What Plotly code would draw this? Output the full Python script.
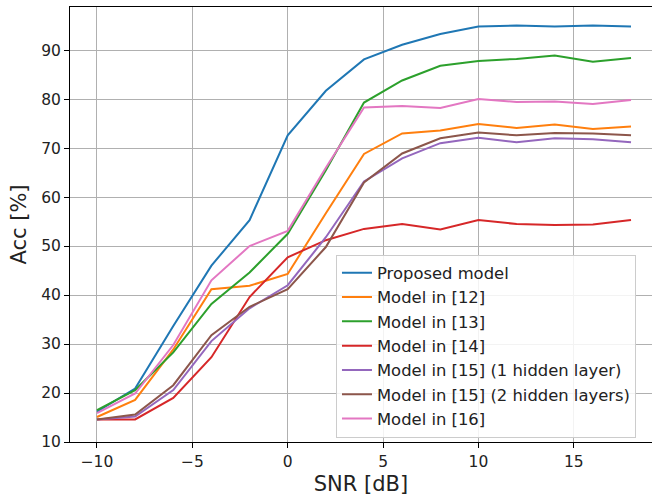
import plotly.graph_objects as go

snr = [-10, -8, -6, -4, -2, 0, 2, 4, 6, 8, 10, 12, 14, 16, 18]

proposed = [16.2, 20.9, 33.7, 46.0, 55.3, 72.6, 81.7, 88.1, 91.1, 93.3, 94.8, 95.0, 94.8, 95.0, 94.8]
model12 = [15.1, 18.6, 28.9, 41.2, 41.9, 44.3, 56.7, 68.8, 73.0, 73.6, 74.9, 74.1, 74.8, 73.9, 74.4]
model13 = [16.5, 20.6, 28.3, 38.2, 44.6, 52.5, 65.5, 79.3, 83.8, 86.8, 87.8, 88.2, 88.9, 87.6, 88.4]
model14 = [14.6, 14.6, 19.0, 27.3, 39.6, 47.7, 51.2, 53.5, 54.5, 53.4, 55.3, 54.5, 54.3, 54.4, 55.3]
model15a = [14.6, 15.2, 20.6, 30.6, 37.3, 42.0, 51.8, 63.2, 67.9, 71.0, 72.1, 71.2, 72.0, 71.8, 71.2]
model15b = [14.6, 15.6, 21.6, 31.8, 37.6, 41.2, 49.8, 63.0, 68.9, 72.0, 73.2, 72.6, 73.1, 73.0, 72.6]
model16 = [15.9, 19.9, 29.8, 43.0, 50.0, 53.1, 66.0, 78.3, 78.6, 78.2, 80.0, 79.4, 79.5, 79.0, 79.8]

names = ["Proposed model", "Model in [12]", "Model in [13]", "Model in [14]",
         "Model in [15] (1 hidden layer)", "Model in [15] (2 hidden layers)", "Model in [16]"]
series = [proposed, model12, model13, model14, model15a, model15b, model16]
colors = ["#1f77b4", "#ff7f0e", "#2ca02c", "#d62728", "#9467bd", "#8c564b", "#e377c2"]

fig = go.Figure()
for n, s, c in zip(names, series, colors):
    fig.add_trace(go.Scatter(x=snr, y=s, mode="lines", name=n,
                             line=dict(color=c, width=2)))

font_family = "DejaVu Sans"
fig.update_layout(
    width=652, height=499,
    margin=dict(l=70, r=0, t=7, b=57),
    paper_bgcolor="white", plot_bgcolor="white",
    font=dict(family=font_family, size=15, color="#222222"),
    showlegend=True,
    legend=dict(x=0.457, y=0.431, xanchor="left", yanchor="top",
                bgcolor="rgba(255,255,255,0.85)", bordercolor="#cccccc", borderwidth=1,
                font=dict(size=16.4, family=font_family, color="#222222"),
                tracegroupgap=0, itemwidth=30),
)
fig.update_xaxes(
    range=[-11.415, 19.1], tickvals=[-10, -5, 0, 5, 10, 15],
    ticktext=["\u221210", "\u22125", "0", "5", "10", "15"],
    showgrid=True, gridcolor="#b0b0b0", gridwidth=1,
    showline=True, linecolor="black", linewidth=1, mirror=True,
    ticks="outside", ticklen=5, tickcolor="black",
    tickfont=dict(size=15.5), zeroline=False,
    title=dict(text="SNR [dB]", font=dict(size=21), standoff=6),
)
fig.update_yaxes(
    range=[10, 98.8], tickvals=[10, 20, 30, 40, 50, 60, 70, 80, 90],
    showgrid=True, gridcolor="#b0b0b0", gridwidth=1,
    showline=True, linecolor="black", linewidth=1, mirror=False,
    ticks="outside", ticklen=5, tickcolor="black",
    tickfont=dict(size=15.5), zeroline=False,
    title=dict(text="Acc [%]", font=dict(size=21), standoff=8),
)

fig.write_html("out.html")
